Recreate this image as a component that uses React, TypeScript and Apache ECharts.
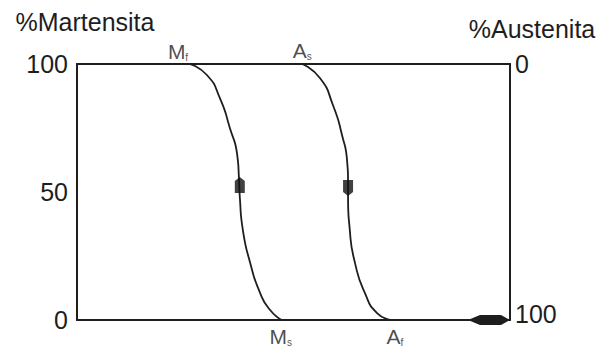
import { useEffect, useRef } from 'react';
import * as echarts from 'echarts';

// Cooling curve (austenite -> martensite): temperature (x, 0-100 scale) vs % martensite
const coolingTemp = [26.1, 30.0, 33.0, 35.3, 37.0, 37.4, 37.6, 38.3, 40.0, 42.3, 44.6, 47.3];
const coolingMart = [100, 95.7, 86.7, 75.0, 64.5, 55.5, 48.0, 35.2, 22.3, 10.5, 3.9, 0];

// Heating curve (martensite -> austenite)
const heatingTemp = [52.0, 56.1, 59.1, 61.2, 62.4, 62.6, 62.6, 63.0, 64.2, 66.5, 69.3, 72.5];
const heatingMart = [100, 94.5, 84.0, 72.3, 61.7, 53.9, 48.0, 35.2, 22.3, 10.5, 2.7, 0];

// Transformation points
const pointNames = ['M', 'A', 'M', 'A'];
const pointSubs = ['f', 's', 's', 'f'];
const pointTemps = [26.1, 52.0, 47.3, 72.5];
const pointMart = [100, 100, 0, 0];

// Direction arrows on the curves
const arrowTemps = [37.6, 62.6];
const arrowMart = [52.7, 51.6];
const arrowRotations = [0, 180];

// Axis ticks
const martensiteTicks = [0, 50, 100];
const austeniteTicks = [0, 100];

const INK = '#1e1e1e';
const FONT = '"Liberation Sans", Arial, sans-serif';

export default function App() {
  const ref = useRef<HTMLDivElement>(null);

  useEffect(() => {
    document.body.style.margin = '0';
    if (!ref.current) return;
    const chart = echarts.init(ref.current, undefined, { renderer: 'svg' });

    const labelOffsets: [number, number][] = [
      [-12, -13],
      [0, -14],
      [-1, 16],
      [4, 16],
    ];

    const option: any = {
      animation: false,
      backgroundColor: '#ffffff',
      grid: { left: 77, right: 92, top: 64, bottom: 27, containLabel: false },
      xAxis: [
        {
          type: 'value',
          position: 'bottom',
          min: 0,
          max: 100,
          axisLine: {
            show: true,
            onZero: false,
            lineStyle: { color: INK, width: 2 },
            symbol: ['none', 'path://M5,0 L10,9 L10,30 L5,42 L0,30 L0,9 Z'],
            symbolSize: [10, 42],
            symbolOffset: [0, -21],
          },
          axisTick: { show: false },
          axisLabel: { show: false },
          splitLine: { show: false },
        },
        {
          type: 'value',
          position: 'top',
          min: 0,
          max: 100,
          axisLine: { show: true, onZero: false, lineStyle: { color: INK, width: 2.2 } },
          axisTick: { show: false },
          axisLabel: { show: false },
          splitLine: { show: false },
        },
      ],
      yAxis: [
        {
          type: 'value',
          position: 'left',
          min: martensiteTicks[0],
          max: martensiteTicks[martensiteTicks.length - 1],
          interval: martensiteTicks[1] - martensiteTicks[0],
          name: '%Martensita',
          nameLocation: 'end',
          nameGap: 42,
          nameTextStyle: {
            fontFamily: FONT,
            fontSize: 25,
            color: INK,
            align: 'center',
            verticalAlign: 'middle',
            padding: [0, 0, 0, 16],
          },
          axisLine: { show: true, onZero: false, lineStyle: { color: INK, width: 2 } },
          axisTick: { show: false },
          axisLabel: { fontFamily: FONT, fontSize: 25, color: INK, margin: 9 },
          splitLine: { show: false },
        },
        {
          type: 'value',
          position: 'right',
          inverse: true,
          min: austeniteTicks[0],
          max: austeniteTicks[austeniteTicks.length - 1],
          interval: austeniteTicks[1] - austeniteTicks[0],
          name: '%Austenita',
          nameLocation: 'start',
          nameGap: 35,
          nameTextStyle: {
            fontFamily: FONT,
            fontSize: 25,
            color: INK,
            align: 'center',
            verticalAlign: 'middle',
            padding: [0, 0, 0, 44],
          },
          axisLine: { show: true, onZero: false, lineStyle: { color: INK, width: 2 } },
          axisTick: { show: false },
          axisLabel: {
            fontFamily: FONT,
            fontSize: 25,
            color: INK,
            margin: 5,
            formatter: (v: number) => (v === austeniteTicks[austeniteTicks.length - 1] ? `{hi|${v}}` : `${v}`),
            rich: { hi: { fontFamily: FONT, fontSize: 25, color: INK, padding: [0, 0, 12, 0] } },
          },
          splitLine: { show: false },
        },
      ],
      series: [
        {
          name: 'cooling',
          type: 'line',
          xAxisIndex: 0,
          yAxisIndex: 0,
          data: coolingTemp.map((t, i) => [t, coolingMart[i]]),
          smooth: 0.6,
          showSymbol: false,
          lineStyle: { color: INK, width: 1.8 },
          z: 3,
        },
        {
          name: 'heating',
          type: 'line',
          xAxisIndex: 0,
          yAxisIndex: 0,
          data: heatingTemp.map((t, i) => [t, heatingMart[i]]),
          smooth: 0.6,
          showSymbol: false,
          lineStyle: { color: INK, width: 1.8 },
          z: 3,
        },
        {
          name: 'arrows',
          type: 'scatter',
          xAxisIndex: 0,
          yAxisIndex: 0,
          data: arrowTemps.map((t, i) => ({
            value: [t, arrowMart[i]],
            symbolRotate: arrowRotations[i],
          })),
          symbol: 'path://M5,0 L10,4 L10,16 L0,16 L0,4 Z',
          symbolSize: [10, 16],
          itemStyle: { color: '#111111' },
          z: 4,
        },
        {
          name: 'points',
          type: 'scatter',
          xAxisIndex: 0,
          yAxisIndex: 0,
          data: pointTemps.map((t, i) => ({
            value: [t, pointMart[i]],
            label: { offset: labelOffsets[i] },
          })),
          symbolSize: 0.1,
          itemStyle: { color: 'transparent' },
          label: {
            show: true,
            position: 'inside',
            formatter: (p: any) => `{b|${pointNames[p.dataIndex]}}{s|${pointSubs[p.dataIndex]}}`,
            rich: {
              b: { fontFamily: FONT, fontSize: 21, color: INK, lineHeight: 22 },
              s: { fontFamily: FONT, fontSize: 10, color: INK, lineHeight: 12, verticalAlign: 'bottom' },
            },
          },
          z: 5,
        },
      ],
    };

    chart.setOption(option);
    return () => chart.dispose();
  }, []);

  return <div ref={ref} style={{ width: 602, height: 347 }} />;
}
